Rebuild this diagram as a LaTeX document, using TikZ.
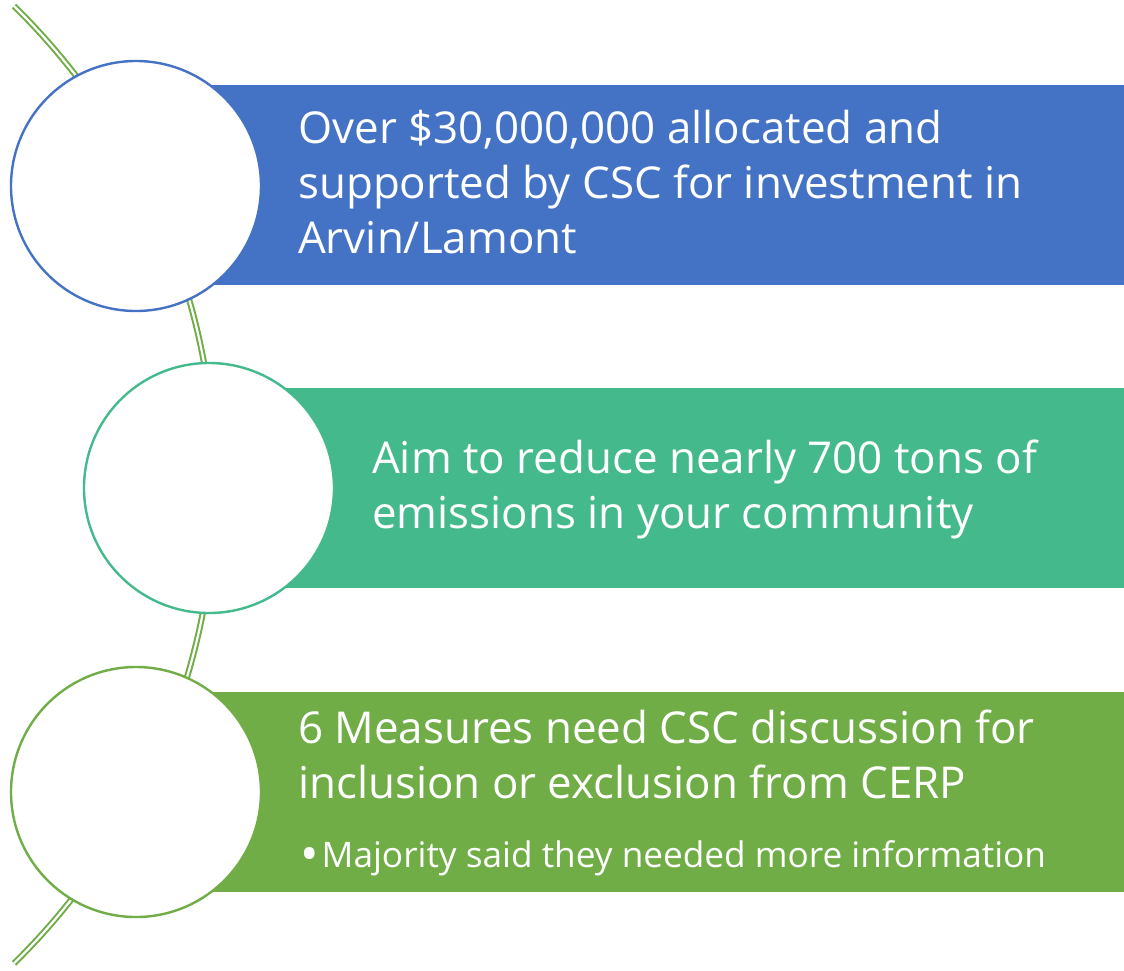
\documentclass[tikz,border=0pt]{standalone}
\usepackage{fontspec}
\setmainfont{Open Sans}
\definecolor{cblue}{RGB}{68,114,196}
\definecolor{cteal}{RGB}{68,185,140}
\definecolor{cgreen}{RGB}{112,173,71}
\begin{document}
\begin{tikzpicture}[x=1pt,y=-1pt,
  arcline/.style={draw=cgreen,line width=2pt,double=white,double distance=2.2pt},
  bar/.style={draw=none,minimum height=200pt,inner sep=0pt,anchor=west},
  disc/.style={circle,fill=white,line width=2.4pt,minimum size=250pt,inner sep=0pt},
  bigtext/.style={text=white,align=left,inner sep=0pt,anchor=base west,font=\fontsize{43.9}{55}\selectfont},
  smalltext/.style={text=white,align=left,inner sep=0pt,anchor=base west,font=\fontsize{35.2}{44}\selectfont}]
\useasboundingbox (0,0) rectangle (1124,970);
% background arc through the circles
\coordinate (arcstart) at (14,6);
\draw[arcline] (arcstart) arc[start angle=-45.6, end angle=45.6, radius=670];
% bars
\node[bar,fill=cblue,minimum width=988pt] (b1) at (136,184.5) {};
\node[bar,fill=cteal,minimum width=915pt] (b2) at (209,488) {};
\node[bar,fill=cgreen,minimum width=988pt] (b3) at (136,791.5) {};
% circles
\node[disc,draw=cblue] (c1) at (136,186) {};
\node[disc,draw=cteal] (c2) at (209,488) {};
\node[disc,draw=cgreen] (c3) at (136,792) {};
% texts
\node[bigtext] (t1) at (298,253) {Over \$30,000,000 allocated and\\supported by CSC for investment in\\Arvin/Lamont};
\node[bigtext] (t2) at (372,528) {Aim to reduce nearly 700 tons of\\emissions in your community};
\node[bigtext] (t3) at (298,798) {6 Measures need CSC discussion for\\inclusion or exclusion from CERP};
\node[smalltext] (t4) at (300,867) {\raisebox{-4.5pt}{\scalebox{1.4}{\textbullet}}\hspace{3pt}Majority said they needed more information};
\end{tikzpicture}
\end{document}
